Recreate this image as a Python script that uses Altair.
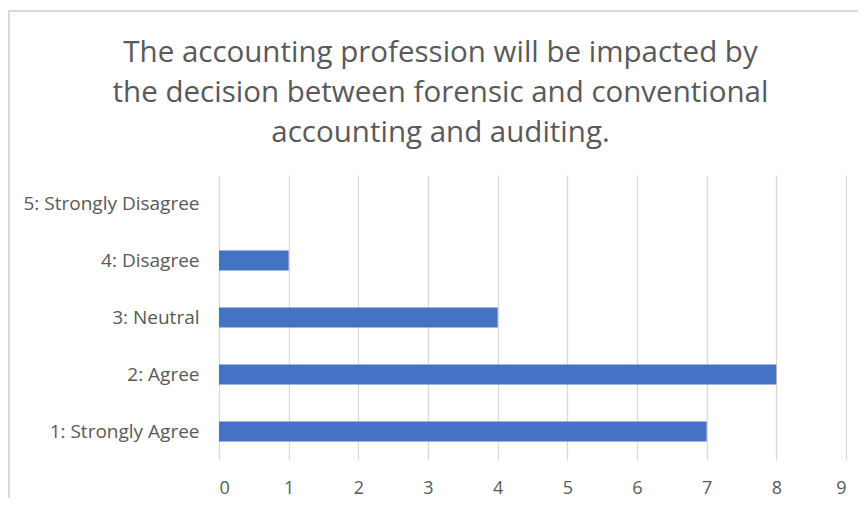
import altair as alt
import pandas as pd

categories = ["5: Strongly Disagree", "4: Disagree", "3: Neutral", "2: Agree", "1: Strongly Agree"]
counts = [0, 1, 4, 8, 7]
x_ticks = [0, 1, 2, 3, 4, 5, 6, 7, 8, 9]
title_lines = [
    "The accounting profession will be impacted by",
    "the decision between forensic and conventional",
    "accounting and auditing.",
]

df = pd.DataFrame({"category": categories, "count": counts})

W, H = 627, 285
PAD_L, PAD_T = 211, 167
FONT = "Open Sans"

bars = alt.Chart(df).mark_bar(color="#4472C4", size=20).encode(
    x=alt.X("count:Q", scale=alt.Scale(domain=[0, 9], nice=False),
            axis=alt.Axis(values=x_ticks, title=None, grid=True, gridColor="#D9D9D9",
                          gridWidth=1.3, domain=False, ticks=False, labelPadding=19,
                          labelFontSize=18, labelColor="#595959", labelFont=FONT)),
    y=alt.Y("category:N", sort=categories,
            scale=alt.Scale(paddingInner=0, paddingOuter=0),
            axis=alt.Axis(title=None, domain=False, ticks=False, labelPadding=20,
                          labelFontSize=19, labelColor="#595959", labelFont=FONT)),
)

frame = alt.Chart(df).mark_rect(fill=None, stroke="#D9D9D9", strokeWidth=2).encode(
    x=alt.value(-PAD_L + 1), x2=alt.value(W + 60),
    y=alt.value(-PAD_T + 3), y2=alt.value(H + 80),
)

chart = alt.layer(frame, bars).properties(
    width=W, height=H,
    padding={"left": PAD_L, "top": PAD_T, "right": 12, "bottom": 38},
    autosize=alt.AutoSizeParams(type="none"),
    title=alt.TitleParams(text=title_lines, anchor="middle", frame="group", dx=-92, offset=-138,
                          fontSize=29.5, lineHeight=40, font=FONT, fontWeight="normal",
                          color="#595959"),
).configure_view(stroke=None)

chart.save("out.html", embed_options={"renderer": "svg", "actions": False})
